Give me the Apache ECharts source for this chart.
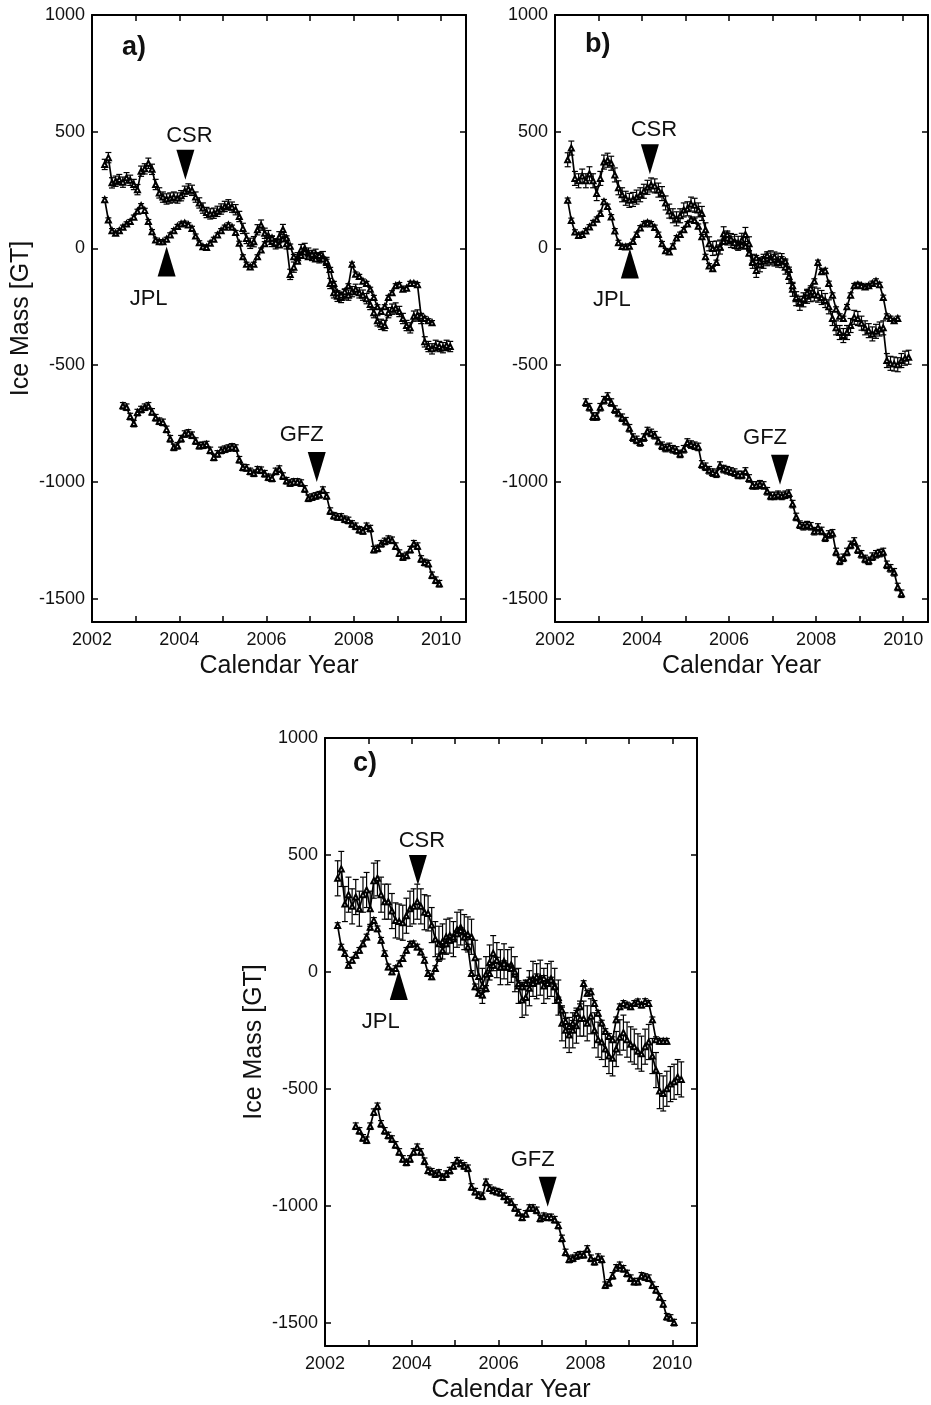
<!DOCTYPE html>
<html>
<head>
<meta charset="utf-8">
<script src="https://cdn.jsdelivr.net/npm/echarts@6/dist/echarts.min.js"></script>
<style>
  html, body { margin: 0; padding: 0; background: #fff; }
  #chart { width: 931px; height: 1405px; }
</style>
</head>
<body>
<div id="chart"></div>
<script>
// monthly solutions, index 0 = April 2002 (mid-month decimal year)
function monthYear(i) { return 2002 + (3.5 + i) / 12; }

const yearTicks = [2003, 2004, 2005, 2006, 2007, 2008, 2009, 2010];
const yearLabels = [2002, 2004, 2006, 2008, 2010];
const massTicks = [-1500, -1000, -500, 0, 500, 1000];

// panel a) -- CSR and JPL start at index 0, GFZ at index 5
const aCSR = [360, 389, 281, 288, 295, 284, 303, 292, 274, 252,
  331, 341, 365, 339, 274, 238, 220, 212, 216, 220,
  216, 226, 245, 255, 249, 220, 195, 173, 154, 148,
  151, 159, 169, 180, 187, 177, 166, 137, 86, 43,
  22, 29, 80, 100, 65, 55, 30, 20, 50, 81,
  20, -111, -80, -40, -5, 0, -20, -30, -25, -40,
  -35, -60, -150, -190, -205, -210, -195, -200, -185, -175,
  -190, -200, -215, -240, -275, -310, -325, -330, -275, -260,
  -255, -270, -300, -330, -340, -290, -285, -300, -400, -420,
  -430, -415, -420, -425, -415, -420];
const aJPL = [209, 122, 76, 65, 76, 91, 105, 115, 134, 159,
  183, 163, 115, 72, 36, 29, 29, 39, 58, 76,
  94, 105, 108, 101, 86, 53, 24, 7, 4, 22,
  39, 58, 76, 91, 101, 91, 68, 22, -36, -68,
  -79, -68, -36, -7, 20, 40, 45, 25, 15, 40,
  45, 10, -35, -55, -30, -15, -35, -25, -45, -30,
  -45, -55, -90, -150, -190, -200, -185, -160, -68, -110,
  -120, -140, -150, -175, -210, -250, -270, -250, -210, -190,
  -160, -155, -175, -170, -150, -150, -155, -290, -300, -310,
  -318];
const aGFZ = [-674, -680, -720, -750, -703, -690, -680, -674, -700, -725,
  -740, -745, -775, -815, -852, -845, -815, -795, -790, -800,
  -825, -845, -843, -840, -865, -895, -880, -865, -860, -855,
  -850, -855, -905, -938, -940, -955, -963, -948, -950, -965,
  -980, -985, -955, -945, -975, -995, -1005, -1000, -1000, -1005,
  -1030, -1070, -1065, -1060, -1055, -1035, -1060, -1125, -1145, -1150,
  -1150, -1160, -1165, -1180, -1190, -1205, -1210, -1190, -1200, -1290,
  -1285, -1265, -1255, -1245, -1250, -1275, -1305, -1322, -1315, -1290,
  -1265, -1275, -1330, -1345, -1350, -1400, -1421, -1436];

// panel b)
const bCSR = [380, 430, 300, 290, 310, 290, 320, 290, 235, 300,
  370, 378, 365, 315, 260, 230, 215, 206, 210, 220,
  230, 245, 262, 272, 268, 250, 235, 195, 160, 140,
  127, 140, 165, 170, 190, 185, 165, 150, 80, 20,
  0, 2, 6, 63, 45, 34, 30, 22, 35, 60,
  20, -55, -94, -70, -55, -44, -40, -45, -50, -52,
  -80, -120, -175, -215, -235, -220, -205, -198, -195, -200,
  -210, -223, -250, -300, -340, -360, -373, -360, -330, -295,
  -300, -320, -340, -352, -366, -355, -345, -340, -480, -492,
  -495, -498, -480, -470, -466];
const bJPL = [206, 120, 70, 56, 60, 75, 92, 110, 125, 150,
  200, 180, 135, 75, 25, 8, 6, 10, 30, 60,
  88, 105, 110, 105, 90, 60, 20, -10, -15, 10,
  45, 60, 80, 105, 125, 120, 95, 50, -35, -75,
  -87, -60, 5, 30, 60, 40, 25, 10, 15, 10,
  -20, -60, -40, -55, -45, -30, -50, -35, -60, -45,
  -55, -90, -160, -210, -230, -215, -190, -170, -140, -60,
  -100, -95, -150, -200, -260, -290, -300, -250, -200, -160,
  -155, -160, -165, -160, -150, -140, -155, -210, -290, -300,
  -310, -300];
const bGFZ = [-660, -680, -720, -720, -680, -650, -634, -660, -690, -705,
  -725, -740, -770, -810, -820, -831, -810, -782, -790, -800,
  -825, -845, -855, -850, -860, -865, -880, -860, -831, -840,
  -845, -850, -925, -935, -950, -960, -965, -930, -945, -950,
  -955, -960, -970, -970, -955, -985, -1015, -1015, -1010, -1015,
  -1040, -1060, -1060, -1055, -1060, -1055, -1050, -1095, -1150, -1183,
  -1190, -1185, -1190, -1211, -1195, -1210, -1239, -1225, -1220, -1300,
  -1338, -1325, -1300, -1270, -1255, -1290, -1310, -1330, -1338, -1320,
  -1310, -1305, -1300, -1355, -1370, -1387, -1450, -1479];

// panel c)
const cCSR = [400, 440, 290, 330, 280, 320, 270, 330, 350, 270,
  390, 400, 330, 300, 300, 260, 220, 215, 210, 240,
  270, 280, 300, 280, 255, 250, 200, 140, 120, 130,
  150, 155, 140, 180, 190, 170, 160, 150, 60, -20,
  -60, -10, 40, 80, 50, 20, 45, 20, 30, -10,
  -60, -120, -110, -70, -30, -40, -25, -60, -40, -30,
  -60, -110, -220, -250, -270, -250, -230, -200, -200, -220,
  -190, -250, -290, -300, -330, -360, -370, -330, -280, -260,
  -290, -310, -320, -340, -350, -320, -300, -360, -420, -510,
  -520, -500, -480, -470, -450, -460];
const cJPL = [198, 106, 78, 28, 50, 71, 92, 120, 149, 191,
  220, 184, 135, 78, 21, 0, 14, 35, 57, 92,
  118, 120, 106, 85, 50, -7, -21, 14, 64, 92,
  120, 135, 149, 163, 177, 149, 106, -7, -64, -92,
  -99, -71, -7, 28, 50, 21, 35, 21, 14, 0,
  -50, -64, -50, -35, -50, -21, -35, -28, -50, -35,
  -64, -120, -163, -212, -234, -220, -177, -149, -50, -92,
  -85, -135, -177, -219, -255, -276, -290, -205, -149, -135,
  -142, -149, -135, -128, -142, -127, -135, -205, -290, -297,
  -297, -297];
const cGFZ = [-660, -680, -710, -720, -660, -600, -575, -650, -680, -700,
  -715, -740, -770, -800, -815, -800, -770, -750, -770, -810,
  -849, -855, -865, -860, -878, -865, -850, -830, -808, -820,
  -830, -840, -920, -940, -955, -960, -900, -925, -935, -940,
  -945, -960, -975, -985, -1010, -1030, -1050, -1035, -1010, -1010,
  -1020, -1055, -1045, -1050, -1050, -1060, -1085, -1140, -1200, -1230,
  -1225, -1215, -1210, -1210, -1185, -1225, -1240, -1220, -1230, -1340,
  -1330, -1300, -1266, -1255, -1270, -1290, -1310, -1325, -1325, -1300,
  -1305, -1310, -1340, -1360, -1390, -1420, -1475, -1480, -1500];

// typical half error bar per series [CSR, JPL, GFZ]
const errA = [22, 9, 14];
const errB = [30, 10, 16];
const errC = [75, 12, 14];

// arrow markers (triangle centres) per panel
const csrMark = [[2004.14, 359], [2004.18, 382], [2004.14, 436]];
const jplMark = [[2003.71, -56], [2003.72, -64], [2003.70, -56]];
const gfzMark = [[2007.15, -936], [2007.17, -948], [2007.13, -940]];

const panelNames = ['a)', 'b)', 'c)'];
const GFZ_START = 5;

const fontFamily = '"Liberation Sans", Arial, Helvetica, sans-serif';
const ink = '#111';

const grids = [
  { left: 92, top: 15, width: 374, height: 607 },
  { left: 555, top: 15, width: 373, height: 607 },
  { left: 325, top: 738, width: 372, height: 608 }
];
const titlePos = [[122, 34], [585, 31], [353, 750]];

const xMin = 2002, xMax = 2010.57;
const yMin = -1600, yMax = 1000;

var myChart = echarts.init(document.getElementById('chart'));

var xAxes = [], yAxes = [], series = [];

grids.forEach(function (g, gi) {
    var line = { color: '#000', width: 2 };
    var tick = { inside: true, length: 6, lineStyle: { color: '#000', width: 1.5 } };
    xAxes.push({
        gridIndex: gi, type: 'value', min: xMin, max: xMax, position: 'bottom',
        axisLine: { onZero: false, lineStyle: line },
        axisTick: Object.assign({ customValues: yearTicks }, tick),
        axisLabel: {
            customValues: yearLabels, color: ink, fontSize: 18, fontFamily: fontFamily, margin: 9,
            formatter: function (v) { return String(Math.round(v)); }
        },
        splitLine: { show: false },
        name: 'Calendar Year', nameLocation: 'middle', nameGap: 32,
        nameTextStyle: { fontSize: 25, color: ink, fontFamily: fontFamily }
    });
    xAxes.push({
        gridIndex: gi, type: 'value', min: xMin, max: xMax, position: 'top',
        axisLine: { onZero: false, lineStyle: line },
        axisTick: Object.assign({ customValues: yearTicks }, tick),
        axisLabel: { show: false },
        splitLine: { show: false }
    });
    yAxes.push({
        gridIndex: gi, type: 'value', min: yMin, max: yMax, position: 'left',
        axisLine: { onZero: false, lineStyle: line },
        axisTick: Object.assign({ customValues: massTicks }, tick),
        axisLabel: {
            customValues: massTicks, color: ink, fontSize: 18, fontFamily: fontFamily, margin: 7,
            formatter: function (v) { return String(v); }
        },
        splitLine: { show: false },
        name: gi === 1 ? '' : 'Ice Mass [GT]', nameLocation: 'middle', nameGap: 58, nameRotate: 90,
        nameTextStyle: { fontSize: 25, color: ink, fontFamily: fontFamily }
    });
    yAxes.push({
        gridIndex: gi, type: 'value', min: yMin, max: yMax, position: 'right',
        axisLine: { onZero: false, lineStyle: line },
        axisTick: Object.assign({ customValues: massTicks }, tick),
        axisLabel: { show: false },
        splitLine: { show: false }
    });
});

function dataLine(gi, vals, start) {
    return {
        type: 'line', xAxisIndex: gi * 2, yAxisIndex: gi * 2,
        data: vals.map(function (v, i) { return [monthYear(start + i), v]; }),
        symbol: 'emptyTriangle', symbolSize: 5, showAllSymbol: true,
        lineStyle: { color: '#000', width: 1.7 },
        itemStyle: { color: '#000', borderWidth: 1 },
        z: 3, silent: true
    };
}

function errorBars(gi, vals, start, err) {
    return {
        type: 'custom', xAxisIndex: gi * 2, yAxisIndex: gi * 2,
        data: vals.map(function (v, i) { return [monthYear(start + i), v - err, v + err]; }),
        encode: { x: 0, y: [1, 2] },
        z: 2, silent: true,
        renderItem: function (params, api) {
            var x = api.value(0);
            var lo = api.coord([x, api.value(1)]);
            var hi = api.coord([x, api.value(2)]);
            var c = 3;
            var style = { stroke: '#000', lineWidth: 1.2 };
            return {
                type: 'group',
                children: [
                    { type: 'line', shape: { x1: lo[0], y1: lo[1], x2: hi[0], y2: hi[1] }, style: style },
                    { type: 'line', shape: { x1: lo[0] - c, y1: lo[1], x2: lo[0] + c, y2: lo[1] }, style: style },
                    { type: 'line', shape: { x1: hi[0] - c, y1: hi[1], x2: hi[0] + c, y2: hi[1] }, style: style }
                ]
            };
        }
    };
}

function arrow(gi, pt, text, down, labelOpt) {
    return {
        type: 'scatter', xAxisIndex: gi * 2, yAxisIndex: gi * 2,
        data: [pt], symbol: 'triangle', symbolSize: [18, 30], symbolRotate: down ? 180 : 0,
        itemStyle: { color: '#000', opacity: 1 },
        label: Object.assign({ show: true, formatter: text, color: ink, opacity: 1, fontSize: 22, fontFamily: fontFamily }, labelOpt),
        z: 5, silent: true
    };
}

var panels = [
    [aCSR, aJPL, aGFZ, errA],
    [bCSR, bJPL, bGFZ, errB],
    [cCSR, cJPL, cGFZ, errC]
];

panels.forEach(function (p, gi) {
    var err = p[3];
    series.push(errorBars(gi, p[0], 0, err[0]));
    series.push(errorBars(gi, p[1], 0, err[1]));
    series.push(errorBars(gi, p[2], GFZ_START, err[2]));
    series.push(dataLine(gi, p[0], 0));
    series.push(dataLine(gi, p[1], 0));
    series.push(dataLine(gi, p[2], GFZ_START));
    series.push(arrow(gi, csrMark[gi], 'CSR', true, { position: 'top', distance: 3, offset: [4, 0] }));
    series.push(arrow(gi, jplMark[gi], 'JPL', false, { position: 'bottom', distance: 11, offset: [-18, 0] }));
    series.push(arrow(gi, gfzMark[gi], 'GFZ', true, { position: 'top', distance: 6, offset: [-15, 0] }));
});

var option = {
    animation: false,
    backgroundColor: '#fff',
    title: panelNames.map(function (t, i) {
        return {
            text: t, left: titlePos[i][0], top: titlePos[i][1], padding: 0,
            textStyle: { fontSize: 27, fontWeight: 'bold', color: ink, fontFamily: fontFamily }
        };
    }),
    grid: grids,
    xAxis: xAxes,
    yAxis: yAxes,
    series: series
};

myChart.setOption(option);
window.addEventListener('resize', function () { myChart.resize(); });
</script>
</body>
</html>
